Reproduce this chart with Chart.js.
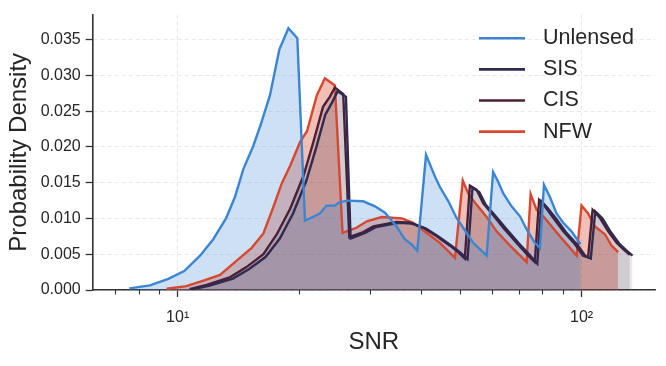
<!DOCTYPE html>
<html>
<head>
<meta charset="utf-8">
<script src="https://cdn.jsdelivr.net/npm/chart.js@4.4.0/dist/chart.umd.min.js"></script>
<style>
  html, body { margin: 0; padding: 0; background: #fff; }
  #wrap { width: 666px; height: 366px; }
</style>
</head>
<body>
<div id="wrap"><canvas id="snrChart" width="666" height="366"></canvas></div>
<script>
// SNR probability densities, read at the histogram bin centres
const seriesNames = ["Unlensed", "SIS", "CIS", "NFW"];

const snrUnlensed = [7.59, 8.54, 9.48, 10.38, 11.36, 12.25, 13.17, 13.86, 14.54, 15.38, 16.05, 16.92, 17.85, 18.8, 19.78, 20.66, 21.6, 22.5, 23.36, 24.5, 25.2, 26.4, 28.8, 30.8, 32.6, 34.8, 36.5, 37.9, 39.2, 41.2, 42.1, 43.4, 44.6, 46.8, 49.0, 51.9, 53.9, 58.2, 60.4, 62.2, 64.0, 67.1, 70.4, 73.1, 76.6, 78.9, 80.7, 83.5, 86.7, 90.1, 94.4, 99.4];
const pdfUnlensed = [0.00023, 0.00064, 0.00155, 0.00265, 0.0048, 0.0071, 0.0100, 0.0130, 0.0169, 0.0201, 0.0231, 0.0272, 0.0336, 0.0366, 0.0352, 0.0097, 0.0102, 0.0107, 0.0118, 0.0118, 0.0123, 0.0125, 0.0124, 0.0117, 0.0108, 0.0089, 0.0071, 0.0064, 0.0055, 0.0189, 0.0176, 0.0158, 0.0144, 0.0124, 0.0101, 0.0080, 0.0066, 0.0048, 0.0165, 0.0151, 0.0135, 0.0117, 0.0103, 0.0085, 0.0066, 0.0059, 0.0147, 0.0130, 0.0107, 0.0094, 0.0082, 0.0064];

const snrSIS = [10.9, 12.0, 13.7, 15.0, 16.5, 17.9, 19.3, 20.8, 22.0, 23.2, 24.1, 24.9, 26.1, 26.8, 29.2, 31.0, 33.1, 35.3, 38.1, 41.2, 44.4, 47.9, 50.2, 52.2, 53.7, 55.8, 57.9, 61.3, 65.0, 70.0, 74.9, 77.7, 79.6, 82.3, 86.4, 91.4, 97.7, 102.4, 105.4, 108.1, 112.7, 118.1, 123.9, 128.7, 133.7];
const pdfSIS = [0.0001, 0.0006, 0.0016, 0.0029, 0.0046, 0.0072, 0.0107, 0.0152, 0.0198, 0.0245, 0.0262, 0.0278, 0.0270, 0.0072, 0.0080, 0.0088, 0.0091, 0.0094, 0.0093, 0.0086, 0.0074, 0.0061, 0.0052, 0.0043, 0.0143, 0.0137, 0.0119, 0.0103, 0.0086, 0.0065, 0.0047, 0.0037, 0.0124, 0.0115, 0.0100, 0.0081, 0.0063, 0.0047, 0.0044, 0.0110, 0.0100, 0.0081, 0.0065, 0.0056, 0.0048];

const snrCIS = [10.7, 11.8, 13.5, 14.8, 16.3, 17.6, 19.0, 20.5, 21.7, 22.9, 23.8, 24.5, 25.7, 26.6, 28.8, 30.5, 32.6, 34.8, 37.6, 40.6, 43.8, 47.2, 49.5, 51.4, 52.9, 55.0, 57.1, 60.4, 64.0, 69.0, 73.8, 76.6, 78.5, 81.1, 85.1, 90.1, 96.3, 100.9, 103.8, 106.5, 111.0, 116.4, 122.1, 126.8, 131.7];
const pdfCIS = [0.0001, 0.0007, 0.0018, 0.0032, 0.0050, 0.0078, 0.0114, 0.0160, 0.0208, 0.0256, 0.0270, 0.0283, 0.0274, 0.0074, 0.0081, 0.0089, 0.0092, 0.0095, 0.0094, 0.0087, 0.0075, 0.0062, 0.0053, 0.0044, 0.0146, 0.0140, 0.0121, 0.0105, 0.0087, 0.0066, 0.0048, 0.0039, 0.0126, 0.0117, 0.0101, 0.0082, 0.0064, 0.0048, 0.0046, 0.0112, 0.0101, 0.0082, 0.0066, 0.0057, 0.0049];

const snrNFW = [9.39, 10.5, 11.68, 12.73, 14.0, 15.25, 16.3, 17.2, 18.1, 19.0, 20.1, 20.9, 22.1, 23.15, 24.5, 25.6, 27.7, 29.4, 32.0, 35.9, 38.3, 41.3, 44.6, 48.6, 50.8, 52.4, 55.0, 58.2, 61.6, 66.5, 71.7, 73.1, 74.8, 77.4, 80.4, 83.5, 88.4, 92.6, 97.2, 100, 103.8, 107.9, 114.2, 118.7, 123.2];
const pdfNFW = [0.00018, 0.00055, 0.00137, 0.0021, 0.0041, 0.0059, 0.0079, 0.0114, 0.0149, 0.0174, 0.0207, 0.0222, 0.0272, 0.0296, 0.0286, 0.0080, 0.0087, 0.0096, 0.0102, 0.0100, 0.0094, 0.0080, 0.0066, 0.0045, 0.0153, 0.0135, 0.0119, 0.0102, 0.0082, 0.0062, 0.0044, 0.0039, 0.0134, 0.0112, 0.0103, 0.0092, 0.0075, 0.0062, 0.0048, 0.0118, 0.0107, 0.0089, 0.0078, 0.0062, 0.0053];

// axis ticks
const xMajorTicks = [10, 100];
const xMinorTicks = [7, 8, 9, 20, 30, 40, 50, 60, 70, 80, 90];
const xTickLabels = { 10: "10\u00b9", 100: "10\u00b2" };
const yTicks = [0, 0.005, 0.01, 0.015, 0.02, 0.025, 0.03, 0.035];

const fontFamily = "'Liberation Sans', Arial, sans-serif";
const textColor = "#262626";
const axisColor = "#333333";
const gridColor = "#e2e2e2";
const lineColors = ["#3b86d3", "#2f2a4f", "#4b2036", "#d8472f"];
const fillColors = ["rgba(59,134,211,0.25)", "rgba(47,42,79,0.1)", "rgba(75,32,54,0.15)", "rgba(216,71,47,0.35)"];

function toPoints(xs, ys) {
  return xs.map((x, i) => ({ x: x, y: ys[i] }));
}

const seriesData = [
  [snrUnlensed, pdfUnlensed],
  [snrSIS, pdfSIS],
  [snrCIS, pdfCIS],
  [snrNFW, pdfNFW],
];

const datasets = seriesData.map((s, i) => ({
  label: seriesNames[i],
  data: toPoints(s[0], s[1]),
  borderColor: lineColors[i],
  backgroundColor: fillColors[i],
  borderWidth: 2.4,
  fill: "origin",
  pointRadius: 0,
  tension: 0,
}));

// short minor tick marks on the log axis
const minorTickPlugin = {
  id: "minorTicks",
  afterDraw(chart) {
    const xs = chart.scales.x;
    const ctx = chart.ctx;
    ctx.save();
    ctx.strokeStyle = axisColor;
    ctx.lineWidth = 1.1;
    xMinorTicks.forEach((v) => {
      const px = Math.round(xs.getPixelForValue(v)) + 0.5;
      ctx.beginPath();
      ctx.moveTo(px, xs.top);
      ctx.lineTo(px, xs.top + 4.5);
      ctx.stroke();
    });
    ctx.restore();
  },
};

// legend in the upper right corner, no frame
const legendPlugin = {
  id: "cornerLegend",
  afterDraw(chart) {
    const ctx = chart.ctx;
    ctx.save();
    ctx.font = "21.5px " + fontFamily;
    ctx.textBaseline = "middle";
    ctx.fillStyle = textColor;
    chart.data.datasets.forEach((ds, i) => {
      const y = 38.3 + i * 31.1;
      ctx.strokeStyle = ds.borderColor;
      ctx.lineWidth = 2.6;
      ctx.beginPath();
      ctx.moveTo(479, y);
      ctx.lineTo(525, y);
      ctx.stroke();
      ctx.fillText(ds.label, 543, y);
    });
    ctx.restore();
  },
};

const ctx = document.getElementById("snrChart").getContext("2d");
const snrChart = new Chart(ctx, {
  type: "line",
  data: { datasets: datasets },
  plugins: [minorTickPlugin, legendPlugin],
  options: {
    responsive: false,
    animation: false,
    devicePixelRatio: 1,
    layout: { padding: { top: 9.5, right: 11, left: 0, bottom: 0 } },
    plugins: {
      legend: { display: false },
      tooltip: { enabled: false },
      filler: { drawTime: "beforeDatasetsDraw" },
    },
    scales: {
      x: {
        type: "logarithmic",
        min: 6.16,
        max: 152,
        afterBuildTicks: (s) => {
          s.ticks = xMinorTicks.concat(xMajorTicks).sort((a, b) => a - b).map((v) => ({ value: v }));
        },
        afterFit: (s) => { s.height = 76; },
        ticks: {
          autoSkip: false,
          maxRotation: 0,
          padding: 11,
          color: textColor,
          font: { family: fontFamily, size: 16 },
          callback: (v) => xTickLabels[v] || "",
        },
        grid: {
          color: (c) => (c.tick && xMajorTicks.includes(c.tick.value) ? gridColor : "rgba(0,0,0,0)"),
          lineWidth: 0.8,
          tickLength: 7,
          tickWidth: 1.3,
          tickColor: (c) => (c.tick && xMajorTicks.includes(c.tick.value) ? axisColor : "rgba(0,0,0,0)"),
        },
        border: { color: axisColor, width: 1.6, dash: [4, 3] },
        title: {
          display: true,
          text: "SNR",
          color: textColor,
          font: { family: fontFamily, size: 24 },
          padding: { top: 0, bottom: 9 },
        },
      },
      y: {
        min: 0,
        max: 0.0385,
        afterBuildTicks: (s) => {
          s.ticks = yTicks.map((v) => ({ value: v }));
        },
        afterFit: (s) => { s.width = 92.7; },
        ticks: {
          padding: 5,
          color: textColor,
          font: { family: fontFamily, size: 16 },
          callback: (v) => Number(v).toFixed(3),
        },
        grid: {
          color: gridColor,
          lineWidth: 0.8,
          tickLength: 7,
          tickWidth: 1.3,
          tickColor: axisColor,
        },
        border: { color: axisColor, width: 1.6, dash: [4, 3] },
        title: {
          display: true,
          text: "Probability Density",
          color: textColor,
          font: { family: fontFamily, size: 24 },
          padding: { top: 5, bottom: 0 },
        },
      },
    },
  },
});
</script>
</body>
</html>
